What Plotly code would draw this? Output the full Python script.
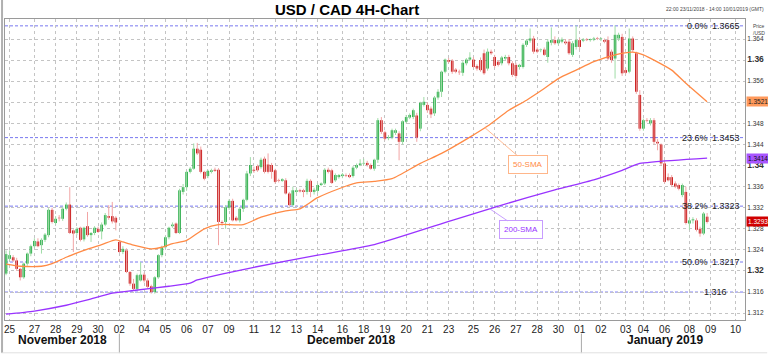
import plotly.graph_objects as go

# ---------------- data ----------------
opens = [1.3195, 1.3223, 1.3226, 1.3220, 1.3204, 1.3188, 1.3214, 1.3233, 1.3247, 1.3256,
         1.3249, 1.3259, 1.3268, 1.3316, 1.3291, 1.3301, 1.3299, 1.3318, 1.3326, 1.3277,
         1.3272, 1.3282, 1.3260, 1.3285, 1.3268, 1.3272, 1.3280, 1.3275, 1.3288, 1.3304,
         1.3304, 1.3301, 1.3255, 1.3236, 1.3239, 1.3198, 1.3176, 1.3166, 1.3182, 1.3193,
         1.3182, 1.3171, 1.3160, 1.3188, 1.3230, 1.3245, 1.3264, 1.3285, 1.3290, 1.3272,
         1.3350, 1.3359, 1.3388, 1.3394, 1.3432, 1.3430, 1.3388, 1.3380, 1.3388, 1.3392,
         1.3392, 1.3293, 1.3293, 1.3320, 1.3333, 1.3301, 1.3296, 1.3318, 1.3335, 1.3385,
         1.3392, 1.3399, 1.3397, 1.3413, 1.3402, 1.3401, 1.3391, 1.3372, 1.3371, 1.3372,
         1.3347, 1.3325, 1.3350, 1.3353, 1.3353, 1.3350, 1.3371, 1.3350, 1.3352, 1.3363,
         1.3366, 1.3392, 1.3391, 1.3372, 1.3378, 1.3380, 1.3382, 1.3382, 1.3380, 1.3396,
         1.3401, 1.3404, 1.3405, 1.3401, 1.3394, 1.3411, 1.3486, 1.3463, 1.3452, 1.3453,
         1.3462, 1.3461, 1.3445, 1.3483, 1.3491, 1.3492, 1.3495, 1.3470, 1.3515, 1.3515,
         1.3508, 1.3499, 1.3529, 1.3540, 1.3578, 1.3600, 1.3599, 1.3582, 1.3578, 1.3576,
         1.3594, 1.3601, 1.3601, 1.3589, 1.3600, 1.3613, 1.3584, 1.3616, 1.3606, 1.3597,
         1.3594, 1.3603, 1.3606, 1.3594, 1.3591, 1.3587, 1.3587, 1.3629, 1.3637, 1.3641,
         1.3620, 1.3619, 1.3620, 1.3606, 1.3633, 1.3638, 1.3632, 1.3635, 1.3635, 1.3635,
         1.3610, 1.3625, 1.3638, 1.3637, 1.3639, 1.3638, 1.3639, 1.3641, 1.3640, 1.3638,
         1.3638, 1.3616, 1.3603, 1.3641, 1.3644, 1.3581, 1.3578, 1.3641, 1.3613, 1.3534,
         1.3470, 1.3486, 1.3480, 1.3486, 1.3445, 1.3440, 1.3404, 1.3378, 1.3378, 1.3366,
         1.3363, 1.3344, 1.3350, 1.3290, 1.3296, 1.3296, 1.3280, 1.3271, 1.3303]
highs = [1.3239, 1.3239, 1.3230, 1.3225, 1.3206, 1.3216, 1.3235, 1.3250, 1.3262, 1.3262,
         1.3262, 1.3272, 1.3319, 1.3320, 1.3304, 1.3306, 1.3322, 1.3330, 1.3359, 1.3279,
         1.3283, 1.3284, 1.3284, 1.3312, 1.3274, 1.3285, 1.3284, 1.3292, 1.3310, 1.3325,
         1.3331, 1.3304, 1.3258, 1.3247, 1.3243, 1.3200, 1.3185, 1.3195, 1.3217, 1.3197,
         1.3186, 1.3174, 1.3190, 1.3232, 1.3248, 1.3266, 1.3284, 1.3292, 1.3292, 1.3356,
         1.3365, 1.3390, 1.3397, 1.3442, 1.3443, 1.3436, 1.3390, 1.3392, 1.3394, 1.3396,
         1.3395, 1.3296, 1.3325, 1.3336, 1.3337, 1.3304, 1.3320, 1.3337, 1.3390, 1.3416,
         1.3398, 1.3402, 1.3415, 1.3417, 1.3423, 1.3405, 1.3394, 1.3375, 1.3376, 1.3376,
         1.3350, 1.3360, 1.3357, 1.3356, 1.3356, 1.3375, 1.3374, 1.3358, 1.3366, 1.3368,
         1.3395, 1.3396, 1.3394, 1.3385, 1.3384, 1.3386, 1.3385, 1.3385, 1.3399, 1.3404,
         1.3412, 1.3413, 1.3409, 1.3404, 1.3413, 1.3490, 1.3492, 1.3466, 1.3458, 1.3470,
         1.3470, 1.3465, 1.3486, 1.3496, 1.3499, 1.3508, 1.3500, 1.3521, 1.3530, 1.3520,
         1.3512, 1.3532, 1.3545, 1.3580, 1.3603, 1.3604, 1.3602, 1.3585, 1.3582, 1.3598,
         1.3604, 1.3615, 1.3606, 1.3592, 1.3605, 1.3620, 1.3622, 1.3620, 1.3610, 1.3600,
         1.3608, 1.3610, 1.3610, 1.3598, 1.3595, 1.3593, 1.3632, 1.3640, 1.3660, 1.3646,
         1.3624, 1.3622, 1.3624, 1.3640, 1.3662, 1.3645, 1.3642, 1.3643, 1.3640, 1.3640,
         1.3636, 1.3666, 1.3642, 1.3642, 1.3642, 1.3641, 1.3644, 1.3644, 1.3643, 1.3641,
         1.3645, 1.3620, 1.3666, 1.3652, 1.3650, 1.3585, 1.3660, 1.3645, 1.3616, 1.3543,
         1.3489, 1.3490, 1.3490, 1.3490, 1.3450, 1.3442, 1.3410, 1.3385, 1.3382, 1.3370,
         1.3366, 1.3366, 1.3360, 1.3300, 1.3302, 1.3300, 1.3284, 1.3312, 1.3310]
lows = [1.3192, 1.3220, 1.3217, 1.3200, 1.3182, 1.3185, 1.3210, 1.3228, 1.3244, 1.3245,
        1.3233, 1.3255, 1.3264, 1.3290, 1.3288, 1.3294, 1.3295, 1.3315, 1.3270, 1.3236,
        1.3268, 1.3256, 1.3256, 1.3265, 1.3255, 1.3268, 1.3272, 1.3260, 1.3285, 1.3297,
        1.3290, 1.3277, 1.3234, 1.3232, 1.3196, 1.3172, 1.3163, 1.3162, 1.3180, 1.3178,
        1.3166, 1.3157, 1.3157, 1.3185, 1.3226, 1.3242, 1.3260, 1.3282, 1.3270, 1.3270,
        1.3345, 1.3352, 1.3385, 1.3392, 1.3420, 1.3385, 1.3372, 1.3376, 1.3385, 1.3388,
        1.3249, 1.3285, 1.3280, 1.3316, 1.3294, 1.3294, 1.3292, 1.3312, 1.3332, 1.3380,
        1.3386, 1.3388, 1.3394, 1.3385, 1.3385, 1.3375, 1.3366, 1.3368, 1.3369, 1.3345,
        1.3322, 1.3322, 1.3347, 1.3349, 1.3340, 1.3345, 1.3340, 1.3345, 1.3348, 1.3361,
        1.3363, 1.3385, 1.3365, 1.3369, 1.3375, 1.3376, 1.3378, 1.3376, 1.3377, 1.3393,
        1.3399, 1.3400, 1.3398, 1.3392, 1.3390, 1.3405, 1.3460, 1.3448, 1.3448, 1.3450,
        1.3458, 1.3410, 1.3440, 1.3480, 1.3488, 1.3488, 1.3445, 1.3465, 1.3512, 1.3500,
        1.3490, 1.3494, 1.3525, 1.3530, 1.3575, 1.3594, 1.3574, 1.3575, 1.3572, 1.3570,
        1.3590, 1.3599, 1.3585, 1.3580, 1.3578, 1.3572, 1.3580, 1.3610, 1.3585, 1.3588,
        1.3590, 1.3600, 1.3590, 1.3568, 1.3565, 1.3582, 1.3584, 1.3625, 1.3633, 1.3612,
        1.3613, 1.3615, 1.3608, 1.3595, 1.3628, 1.3629, 1.3628, 1.3632, 1.3629, 1.3610,
        1.3606, 1.3620, 1.3620, 1.3634, 1.3636, 1.3635, 1.3636, 1.3638, 1.3636, 1.3632,
        1.3600, 1.3595, 1.3565, 1.3636, 1.3570, 1.3573, 1.3575, 1.3615, 1.3536, 1.3466,
        1.3466, 1.3482, 1.3476, 1.3440, 1.3429, 1.3400, 1.3366, 1.3370, 1.3360, 1.3357,
        1.3353, 1.3340, 1.3288, 1.3278, 1.3290, 1.3275, 1.3265, 1.3268, 1.3290]
closes = [1.3232, 1.3230, 1.3220, 1.3204, 1.3188, 1.3214, 1.3233, 1.3247, 1.3257, 1.3247,
          1.3259, 1.3269, 1.3316, 1.3293, 1.3299, 1.3300, 1.3318, 1.3326, 1.3272, 1.3271,
          1.3280, 1.3259, 1.3282, 1.3268, 1.3272, 1.3282, 1.3274, 1.3288, 1.3306, 1.3301,
          1.3294, 1.3292, 1.3236, 1.3242, 1.3198, 1.3176, 1.3166, 1.3192, 1.3193, 1.3182,
          1.3170, 1.3160, 1.3188, 1.3230, 1.3245, 1.3264, 1.3282, 1.3288, 1.3272, 1.3353,
          1.3359, 1.3388, 1.3394, 1.3432, 1.3423, 1.3388, 1.3375, 1.3390, 1.3391, 1.3390,
          1.3293, 1.3291, 1.3321, 1.3333, 1.3296, 1.3296, 1.3318, 1.3335, 1.3385, 1.3401,
          1.3390, 1.3391, 1.3411, 1.3388, 1.3388, 1.3388, 1.3369, 1.3371, 1.3374, 1.3347,
          1.3325, 1.3353, 1.3353, 1.3351, 1.3350, 1.3371, 1.3350, 1.3354, 1.3363, 1.3366,
          1.3392, 1.3388, 1.3367, 1.3382, 1.3382, 1.3383, 1.3381, 1.3378, 1.3396, 1.3401,
          1.3404, 1.3405, 1.3401, 1.3394, 1.3411, 1.3486, 1.3464, 1.3451, 1.3454, 1.3467,
          1.3467, 1.3445, 1.3484, 1.3492, 1.3496, 1.3505, 1.3453, 1.3519, 1.3521, 1.3505,
          1.3497, 1.3529, 1.3540, 1.3578, 1.3601, 1.3597, 1.3578, 1.3578, 1.3577, 1.3595,
          1.3601, 1.3605, 1.3587, 1.3584, 1.3581, 1.3575, 1.3616, 1.3613, 1.3589, 1.3591,
          1.3605, 1.3606, 1.3594, 1.3572, 1.3570, 1.3591, 1.3629, 1.3637, 1.3641, 1.3616,
          1.3616, 1.3620, 1.3610, 1.3635, 1.3638, 1.3632, 1.3638, 1.3639, 1.3632, 1.3613,
          1.3632, 1.3638, 1.3625, 1.3639, 1.3638, 1.3640, 1.3641, 1.3640, 1.3641, 1.3635,
          1.3603, 1.3600, 1.3648, 1.3648, 1.3575, 1.3576, 1.3641, 1.3619, 1.3540, 1.3470,
          1.3486, 1.3485, 1.3486, 1.3445, 1.3442, 1.3404, 1.3369, 1.3372, 1.3363, 1.3360,
          1.3356, 1.3363, 1.3291, 1.3296, 1.3298, 1.3278, 1.3271, 1.3309, 1.3293]

# moving averages (bar index, value)
sma50_idx = [0, 4, 10, 13, 17, 22, 27, 31, 33, 36, 41, 44, 47, 51, 56, 60, 67, 72, 79, 83,
             88, 94, 99, 104, 109, 117, 123, 131, 136, 142, 147, 152, 156, 161, 166, 172,
             177, 180, 183, 188, 192, 198]
sma50_val = [1.3213, 1.3209, 1.3209, 1.3214, 1.3226, 1.3239, 1.3250, 1.3259, 1.3255, 1.3249,
             1.3242, 1.3245, 1.3252, 1.3258, 1.3280, 1.3288, 1.3288, 1.3302, 1.3314, 1.3318,
             1.3339, 1.3356, 1.3367, 1.3370, 1.3375, 1.3404, 1.3423, 1.3454, 1.3475, 1.3505,
             1.3524, 1.3546, 1.3565, 1.3581, 1.3597, 1.3610, 1.3615, 1.3610, 1.3600, 1.3581,
             1.3556, 1.3521]
sma200_idx = [0, 8, 17, 23, 30, 36, 46, 52, 54, 70, 88, 104, 126, 140, 155, 166, 174, 179,
              183, 198]
sma200_val = [1.3118, 1.3124, 1.3135, 1.3145, 1.3158, 1.3163, 1.3171, 1.3177, 1.3183, 1.3207,
              1.3230, 1.3250, 1.3296, 1.3325, 1.3354, 1.3373, 1.3391, 1.3404, 1.3407, 1.3414]

fib_levels = [1.3665, 1.3453, 1.3323, 1.3217, 1.316]
fib_pct = ["0.0%", "23.6%", "38.2%", "50.0%", ""]

tick_idx = [1, 8, 14, 20, 26, 32, 39, 45, 51, 57, 63, 70, 76, 82, 88, 95, 101, 107, 113,
            119, 125, 132, 138, 144, 150, 156, 162, 168, 175, 180, 186, 193, 199, 206]
tick_text = ["25", "27", "28", "29", "30", "02", "04", "05", "06", "07", "09", "11", "12",
             "13", "14", "16", "18", "19", "20", "21", "23", "25", "26", "27", "28", "30",
             "01", "02", "03", "04", "06", "08", "09", "10"]
month_names = ["November 2018", "December 2018", "January 2019"]
month_pos = [16, 97.5, 186]
month_breaks = [32, 162.5]

price_ticks = [1.312, 1.316, 1.320, 1.324, 1.328, 1.332, 1.336, 1.340, 1.344, 1.348,
               1.352, 1.356, 1.360, 1.364]

# ---------------- styling ----------------
GREEN = "#17a53a"
RED = "#c00000"
GREEN_W = "#9fdca6"
RED_W = "#f2a5a5"
ORANGE = "#ff8a45"
PURPLE = "#9933ff"
FIB = "#7878f0"
FONT = "Arial, Liberation Sans, sans-serif"

n = len(closes)
idx = list(range(n))

fig = go.Figure()

# wicks
for up, col in ((True, GREEN_W), (False, RED_W)):
    xs, ys = [], []
    for i in idx:
        if (closes[i] >= opens[i]) == up:
            xs += [i, i, None]
            ys += [lows[i], highs[i], None]
    fig.add_trace(go.Scatter(x=xs, y=ys, mode="lines", line=dict(color=col, width=1),
                             hoverinfo="skip", showlegend=False))

# bodies
base = [min(o, c) for o, c in zip(opens, closes)]
height = [max(abs(c - o), 0.00006) for o, c in zip(opens, closes)]
colors = [GREEN if c >= o else RED for o, c in zip(opens, closes)]
fig.add_trace(go.Bar(x=idx, base=base, y=height, width=0.72,
                     marker=dict(color=colors, line=dict(width=0)),
                     hoverinfo="skip", showlegend=False))

# moving averages
fig.add_trace(go.Scatter(x=sma50_idx, y=sma50_val, mode="lines",
                         line=dict(color=ORANGE, width=1.3, shape="spline", smoothing=0.6),
                         hoverinfo="skip", showlegend=False))
fig.add_trace(go.Scatter(x=sma200_idx, y=sma200_val, mode="lines",
                         line=dict(color=PURPLE, width=1.3, shape="spline", smoothing=0.6),
                         hoverinfo="skip", showlegend=False))

shapes = []
annotations = []

# fibonacci lines & labels
for lvl, pct in zip(fib_levels, fib_pct):
    shapes.append(dict(type="line", xref="paper", x0=0, x1=1, yref="y", y0=lvl, y1=lvl,
                       line=dict(color=FIB, width=1, dash="3px,2px"), layer="below"))
    num = f"{lvl:.4f}".rstrip("0") if pct == "" else f"{lvl:.4f}"
    if pct:
        annotations.append(dict(xref="paper", x=0.953, xanchor="right", yref="y", y=lvl,
                                yanchor="middle", text=pct, showarrow=False,
                                font=dict(family=FONT, size=9, color="#222")))
        annotations.append(dict(xref="paper", x=0.996, xanchor="right", yref="y", y=lvl,
                                yanchor="middle", text=num, showarrow=False,
                                font=dict(family=FONT, size=9, color="#222")))
    else:
        annotations.append(dict(xref="paper", x=0.9596, xanchor="center", yref="y", y=lvl,
                                yanchor="middle", text=num, showarrow=False,
                                font=dict(family=FONT, size=9, color="#222")))

# month separators and labels
for mb in month_breaks:
    shapes.append(dict(type="line", xref="x", x0=mb, x1=mb, yref="paper", y0=-0.045, y1=-0.11,
                       line=dict(color="#aaaaaa", width=1)))
for name, pos in zip(month_names, month_pos):
    annotations.append(dict(xref="x", x=pos, yref="paper", y=-0.066, yanchor="middle",
                            text=f"<b>{name}</b>", showarrow=False,
                            font=dict(family=FONT, size=12, color="#111")))

# frame lines of the image
shapes.append(dict(type="line", xref="paper", x0=-0.004, x1=-0.004, yref="paper", y0=-0.11, y1=1.07,
                   line=dict(color="#b0b0b0", width=2)))
shapes.append(dict(type="line", xref="paper", x0=-0.005, x1=1.03, yref="paper", y0=-0.109, y1=-0.109,
                   line=dict(color="#e0e0e0", width=1)))

# value boxes on the price axis
last_boxes = [(sma50_val[-1], "#ff9a5c", "#222"), (sma200_val[-1], "#a855ff", "#111"),
              (closes[-1], "#d00000", "#ffffff")]
for val, bg, fc in last_boxes:
    annotations.append(dict(xref="paper", x=1.0015, xanchor="left", yref="y", y=val,
                            yanchor="middle", text=f"{val:.4f}", showarrow=False,
                            bgcolor=bg, borderpad=1,
                            font=dict(family=FONT, size=6.5, color=fc)))

# SMA callouts
annotations.append(dict(x=135.2, y=1.3472, xref="x", yref="y", text="50-SMA",
                        showarrow=True, arrowhead=0, arrowwidth=1, arrowcolor="#ffbb95",
                        ax=43, ay=37, bgcolor="white", bordercolor="#ffb68a", borderwidth=1,
                        borderpad=4, font=dict(family=FONT, size=8, color=ORANGE)))
annotations.append(dict(x=136.6, y=1.3318, xref="x", yref="y", text="200-SMA",
                        showarrow=True, arrowhead=0, arrowwidth=1, arrowcolor="#c9a0ff",
                        ax=31, ay=21, bgcolor="white", bordercolor="#c79cff", borderwidth=1,
                        borderpad=4, font=dict(family=FONT, size=8, color=PURPLE)))

# small header texts
annotations.append(dict(xref="paper", x=1.028, xanchor="right", yref="paper", y=1.016,
                        yanchor="bottom", text="22:00 23/11/2018 - 14:00 10/01/2019 (GMT)",
                        showarrow=False, font=dict(family=FONT, size=5, color="#444")))
annotations.append(dict(xref="paper", x=1.008, xanchor="left", yref="paper", y=0.995,
                        yanchor="top", text="Price<br>/USD", showarrow=False, align="left",
                        font=dict(family=FONT, size=5, color="#444")))

ytext = []
for p in price_ticks:
    if abs(p * 100 - round(p * 100)) < 1e-9 and round(p * 100) % 2 == 0:
        ytext.append(f"<b><span style='font-size:8.5px'>{p:.2f}</span></b>")
    else:
        ytext.append(f"{p:.3f}")

fig.update_layout(
    width=768, height=355,
    margin=dict(l=4, r=22, t=19, b=35),
    paper_bgcolor="white", plot_bgcolor="white",
    barmode="overlay",
    showlegend=False,
    title=dict(text="<b>USD / CAD 4H-Chart</b>", x=275 / 768, xref="container", xanchor="left",
               y=0.972, yref="container", yanchor="middle",
               font=dict(family=FONT, size=15, color="#000")),
    xaxis=dict(range=[-0.3, 208.7], tickvals=tick_idx, ticktext=tick_text,
               showgrid=True, gridcolor="#c4c4c4", griddash="dot", gridwidth=1,
               showline=True, linecolor="#9a9a9a", mirror=True, zeroline=False,
               ticks="", tickfont=dict(family=FONT, size=10, color="#222"),
               fixedrange=True),
    yaxis=dict(side="right", range=[1.3107, 1.3678], tickvals=price_ticks, ticktext=ytext,
               showgrid=True, gridcolor="#c4c4c4", griddash="dot", gridwidth=1,
               showline=True, linecolor="#9a9a9a", mirror=True, zeroline=False,
               ticks="", tickfont=dict(family=FONT, size=6.5, color="#333"),
               fixedrange=True),
    shapes=shapes,
    annotations=annotations,
)

fig.write_html(
    "out.html",
    config={"displayModeBar": False, "staticPlot": True},
    post_script="document.body.style.margin='0';document.body.style.padding='0';"
                "document.documentElement.style.overflow='hidden';",
)
